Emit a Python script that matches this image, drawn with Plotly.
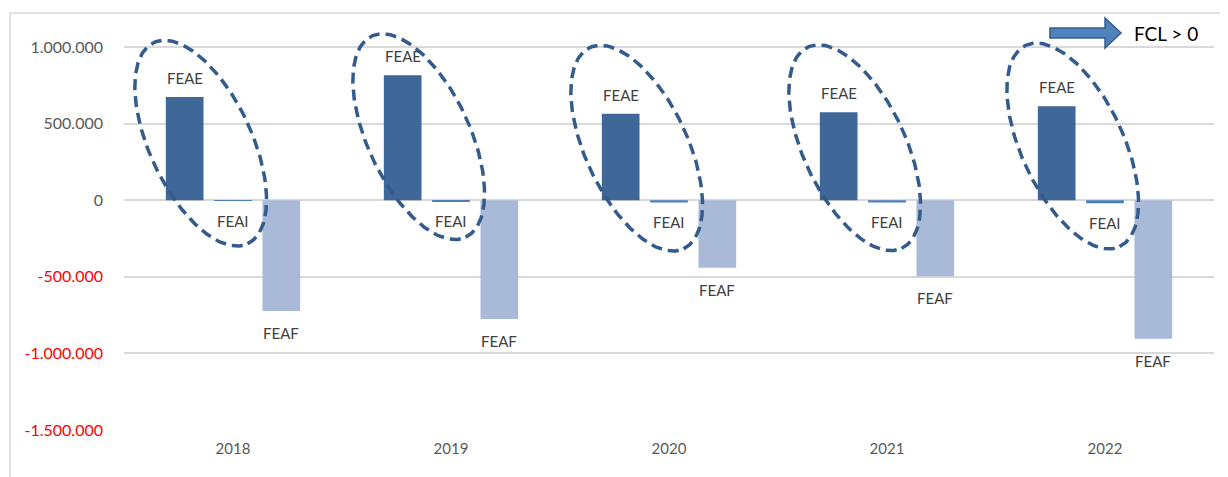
import numpy as np
import plotly.graph_objects as go

years = [2018, 2019, 2020, 2021, 2022]
feae = [674000, 815000, 565000, 574000, 613000]
feai = [-4000, -8000, -15000, -15000, -20000]
feaf = [-724000, -776000, -441000, -496000, -905000]
y_ticks = [1000000, 500000, 0, -500000, -1000000, -1500000]

COLORS = {'FEAE': "#3F6797", 'FEAI': "#4A7EBB", 'FEAF': "#A9BAD8"}
ELLIPSE_COLOR = "#335B8C"
TEXT_COLOR = "#404040"
GRID_COLOR = "#D9D9D9"
FONT = "Lato"

# the page body has an 8px margin, so the figure is a bit smaller than the window
PAGE_OFFSET = 8
W, H = 1220, 469
MARGIN = dict(l=116, r=14, t=16, b=47)
Y_RANGE = [-1500000, 1150000]
X_RANGE = [years[0] - 0.5, years[-1] + 0.5]
BARGAP = 0.335
BARGROUPGAP = 0.22

plot_w = W - MARGIN['l'] - MARGIN['r']
plot_h = H - MARGIN['t'] - MARGIN['b']
x_per_px = (X_RANGE[1] - X_RANGE[0]) / plot_w
y_per_px = (Y_RANGE[1] - Y_RANGE[0]) / plot_h
slot = (1 - BARGAP) / 3


def fmt_tick(v):
    s = f"{abs(v):,}".replace(",", ".")
    if v < 0:
        return f"<span style='color:#FF0000'>-{s}</span>"
    return s


def ellipse_trace(cx, cy, a_px=111, b_px=51, tilt_deg=25):
    """ Dashed tilted ellipse, size given in pixels, centre in data units. """
    t = np.linspace(0, 2 * np.pi, 240)
    th = np.radians(tilt_deg)
    # major axis leans from upper left to lower right (screen px, y down)
    ux, uy = np.sin(th), np.cos(th)
    vx, vy = np.cos(th), -np.sin(th)
    px = a_px * np.cos(t) * ux + b_px * np.sin(t) * vx
    py = a_px * np.cos(t) * uy + b_px * np.sin(t) * vy
    return go.Scatter(
        x=cx + px * x_per_px, y=cy - py * y_per_px, mode='lines',
        line=dict(color=ELLIPSE_COLOR, width=3.5, dash='11px,6px'),
        hoverinfo='skip', showlegend=False
    )


fig = go.Figure()
for name, values in [('FEAE', feae), ('FEAI', feai), ('FEAF', feaf)]:
    fig.add_trace(go.Bar(
        x=years, y=values, name=name, marker_color=COLORS[name],
        marker_line_width=0, showlegend=False
    ))

for yr, e in zip(years, feae):
    fig.add_trace(ellipse_trace(yr - slot + 16 * x_per_px, 0.3 * e + 170000))

annotations = []
for yr, e, i, f in zip(years, feae, feai, feaf):
    annotations.append(dict(x=yr - slot, y=e, text="FEAE", yshift=19))
    annotations.append(dict(x=yr, y=i, text="FEAI", yshift=-20))
    annotations.append(dict(x=yr + slot, y=f, text="FEAF", yshift=-22))
for a in annotations:
    a.update(showarrow=False, xref='x', yref='y',
             font=dict(family=FONT, size=15, color=TEXT_COLOR))


def px_to_paper(px, py):
    """ Window pixel position -> paper coordinates. """
    px -= PAGE_OFFSET
    py -= PAGE_OFFSET
    return (px - MARGIN['l']) / plot_w, (H - MARGIN['b'] - py) / plot_h


# block arrow "FCL > 0"
arrow_px = [(1050, 28), (1105, 28), (1105, 18), (1121, 33), (1105, 48), (1105, 38), (1050, 38)]
arrow_pp = [px_to_paper(x, y) for x, y in arrow_px]
arrow_path = "M " + " L ".join(f"{x:.4f},{y:.4f}" for x, y in arrow_pp) + " Z"
fx, fy = px_to_paper(1132, 33)
annotations.append(dict(x=fx, y=fy, xref='paper', yref='paper', text="FCL > 0",
                        showarrow=False, xanchor='left', yanchor='middle',
                        font=dict(family=FONT, size=19, color="#000000")))

# chart frame (left and top edges)
l0, t0 = px_to_paper(10, 13)
r0, b0 = px_to_paper(W + PAGE_OFFSET, H + PAGE_OFFSET)
shapes = [
    dict(type='path', path=arrow_path, xref='paper', yref='paper', opacity=1,
         fillcolor="#4F81BD", line=dict(color="#385D8A", width=1.5)),
    dict(type='line', xref='paper', yref='paper', x0=l0, x1=l0, y0=t0, y1=b0,
         opacity=1, line=dict(color=GRID_COLOR, width=1.5)),
    dict(type='line', xref='paper', yref='paper', x0=l0, x1=r0, y0=t0, y1=t0,
         opacity=1, line=dict(color=GRID_COLOR, width=1.5)),
]

fig.update_layout(
    width=W, height=H, margin=MARGIN,
    template="simple_white",
    plot_bgcolor="white", paper_bgcolor="white",
    barmode='group', bargap=BARGAP, bargroupgap=BARGROUPGAP,
    annotations=annotations, shapes=shapes,
    font=dict(family=FONT, color="#595959"),
)
fig.update_xaxes(
    range=X_RANGE, tickvals=years, ticktext=[str(y) for y in years],
    showline=False, ticks="", showgrid=False, zeroline=False,
    tickfont=dict(size=15, color="#595959"), ticklabelstandoff=8
)
fig.update_yaxes(
    range=Y_RANGE, tickvals=y_ticks, ticktext=[fmt_tick(v) for v in y_ticks],
    showline=False, ticks="", showgrid=True, gridcolor=GRID_COLOR, gridwidth=1.5,
    zeroline=False, tickfont=dict(size=16, color="#595959"), ticklabelstandoff=20
)

fig.write_html("out.html")
